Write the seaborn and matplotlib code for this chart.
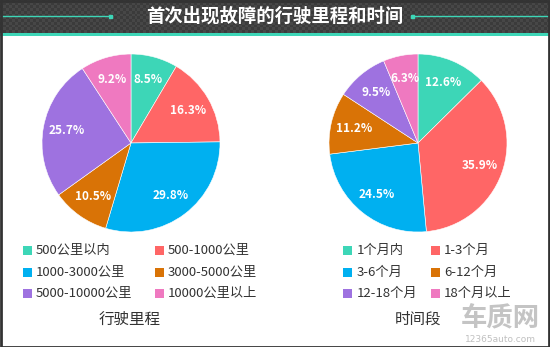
import numpy as np
import matplotlib
matplotlib.use("Agg")
import matplotlib.pyplot as plt
import seaborn as sns
from matplotlib.patches import Rectangle

sns.set_theme(style="white")
plt.rcParams['font.family'] = ['Noto Sans CJK SC', 'DejaVu Sans']

title = "首次出现故障的行驶里程和时间"
mileage_labels = ["500公里以内", "500-1000公里", "1000-3000公里", "3000-5000公里", "5000-10000公里", "10000公里以上"]
mileage_values = [8.5, 16.3, 29.8, 10.5, 25.7, 9.2]
time_labels = ["1个月内", "1-3个月", "3-6个月", "6-12个月", "12-18个月", "18个月以上"]
time_values = [12.6, 35.9, 24.5, 11.2, 9.5, 6.3]
subtitles = ["行驶里程", "时间段"]
colors = ["#3dd6b7", "#ff6666", "#00b0f0", "#d97306", "#9e72e0", "#ef79c0"]

W, H = 550, 347
fig = plt.figure(figsize=(W / 100, H / 100), dpi=100)
fig.patch.set_facecolor("white")

def fx(px):
    return px / W

def fy(py):
    return 1 - py / H

# header background with checker pattern
hax = fig.add_axes([0, fy(33), 1, 33 / H])
tile = 3
ny, nx = 33 // tile + 1, W // tile + 1
checker = (np.add.outer(np.arange(ny), np.arange(nx)) % 2).astype(float)
hax.imshow(checker, cmap=matplotlib.colors.ListedColormap(["#3b3b3b", "#474747"]),
           aspect="auto", extent=[0, W, 33, 0], interpolation="nearest")
hax.set_xlim(0, W)
hax.set_ylim(33, 0)
hax.axis("off")
hax.plot([0, 111], [16, 16], color="#3dd6b7", lw=1)
hax.plot([412, W], [16, 16], color="#3dd6b7", lw=1)
hax.add_patch(Rectangle((109, 14.5), 3, 3, color="#3dd6b7"))
hax.add_patch(Rectangle((411, 14.5), 3, 3, color="#3dd6b7"))
hax.text(W / 2, 16.5, title, color="white", fontsize=13.2, fontweight="bold",
         ha="center", va="center")

# teal stripe
fig.add_artist(Rectangle((0, fy(36)), 1, 3 / H, transform=fig.transFigure,
                         color="#3dd6b7", lw=0))

def draw_pie(cx, cy, r, values):
    ax = fig.add_axes([fx(cx - r), fy(cy + r), 2 * r / W, 2 * r / H])
    ax.pie(values, colors=colors, startangle=90, counterclock=False,
           autopct=lambda p: f"{p:.1f}%", pctdistance=0.74,
           textprops=dict(color="white", fontsize=8.5, fontweight="bold"),
           wedgeprops=dict(edgecolor="white", linewidth=0.4))
    ax.set_xlim(-1, 1)
    ax.set_ylim(-1, 1)
    ax.set_aspect("auto")
    ax.axis("off")
    return ax

draw_pie(131, 143, 89, mileage_values)
draw_pie(418, 143, 89, time_values)

def draw_legend(labels, sq_x, txt_x, rows_y):
    for i, lab in enumerate(labels):
        col, row = i % 2, i // 2
        y = rows_y[row]
        fig.add_artist(Rectangle((fx(sq_x[col]), fy(y + 4.5)), 9 / W, 9 / H,
                                 transform=fig.transFigure, color=colors[i], lw=0))
        fig.text(fx(txt_x[col]), fy(y), lab, fontsize=9.5, color="#333333",
                 ha="left", va="center")

rows = [250, 272, 293]
draw_legend(mileage_labels, [23, 155], [36, 168], rows)
draw_legend(time_labels, [343, 431], [357, 444], rows)

fig.text(fx(130), fy(319), subtitles[0], fontsize=11.2, color="#333333", ha="center", va="center")
fig.text(fx(418), fy(319), subtitles[1], fontsize=11.2, color="#333333", ha="center", va="center")

# watermark
fig.text(fx(500), fy(319), "车质网", fontsize=19, color="#c4c4c4", fontweight="bold",
         ha="center", va="center", style="italic")
fig.text(fx(500), fy(339.5), "12365auto.com", fontsize=6.5, color="#c0c0c0",
         ha="center", va="center", family=["DejaVu Sans"])

# border
fig.add_artist(Rectangle((0.5 / W, 0.5 / H), 1 - 1.5 / W, 1 - 1 / H, transform=fig.transFigure,
                         fill=False, edgecolor="#333333", lw=2))

fig.savefig("out.png", dpi=100)
